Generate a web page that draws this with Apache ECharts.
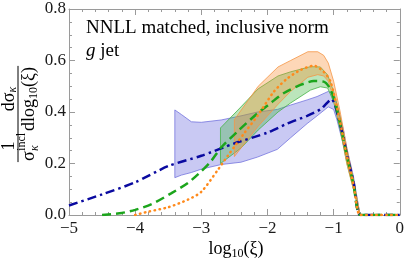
<!DOCTYPE html>
<html><head><meta charset="utf-8">
<script src="https://cdn.jsdelivr.net/npm/echarts@6/dist/echarts.min.js"></script>
<style>html,body{margin:0;padding:0;background:#fff}#c{width:407px;height:263px}</style>
</head><body><div id="c"></div>
<script>
// ---- data ----
const xTickValues = [-5, -4, -3, -2, -1, 0];
const yTickValues = [0, 0.2, 0.4, 0.6, 0.8];

const blueX = [-5, -4.5, -4, -3.5, -3, -2.5, -2, -1.7, -1.4, -1.2, -1.1, -1.03, -0.97, -0.92, -0.85, -0.8, -0.7, -0.6, -0.4, -0.2, 0];
const blueY = [0.037, 0.08, 0.127, 0.19, 0.23, 0.278, 0.32, 0.355, 0.385, 0.41, 0.435, 0.45, 0.42, 0.37, 0.30, 0.235, 0.13, 0, 0, 0, 0];

const greenX = [-4.5, -4.2, -4.0, -3.75, -3.45, -3.2, -3.0, -2.85, -2.7, -2.45, -2.15, -1.95, -1.75, -1.5, -1.3, -1.15, -1.05, -0.95, -0.8, -0.7, -0.6, -0.4, -0.2, 0];
const greenY = [0, 0.008, 0.02, 0.042, 0.085, 0.125, 0.17, 0.21, 0.262, 0.325, 0.395, 0.435, 0.474, 0.505, 0.52, 0.518, 0.49, 0.41, 0.23, 0.12, 0, 0, 0, 0];

const orangeX = [-4.0, -3.8, -3.5, -3.2, -3.0, -2.75, -2.6, -2.35, -2.15, -1.9, -1.7, -1.5, -1.3, -1.15, -1.05, -0.95, -0.8, -0.7, -0.6, -0.4, -0.2, 0];
const orangeY = [0, 0.013, 0.03, 0.06, 0.09, 0.175, 0.23, 0.318, 0.385, 0.48, 0.53, 0.563, 0.58, 0.556, 0.52, 0.42, 0.23, 0.12, 0, 0, 0, 0];

const blueBandX  = [-3.4, -3.3, -3.15, -3.0, -2.7, -2.4, -2.15, -1.85, -1.65, -1.4, -1.25, -1.08, -1.0, -0.95, -0.85, -0.8, -0.7, -0.6];
const blueBandLo = [0.145, 0.155, 0.165, 0.178, 0.196, 0.205, 0.225, 0.255, 0.30, 0.355, 0.385, 0.42, 0.41, 0.37, 0.27, 0.21, 0.11, 0];
const blueBandHi = [0.408, 0.39, 0.362, 0.36, 0.369, 0.385, 0.40, 0.41, 0.427, 0.447, 0.46, 0.48, 0.47, 0.43, 0.33, 0.26, 0.15, 0];

const greenBandX  = [-2.71, -2.4, -2.14, -1.84, -1.65, -1.35, -1.2, -1.09, -1.0, -0.9, -0.8, -0.7, -0.6];
const greenBandLo = [0.2, 0.26, 0.33, 0.40, 0.435, 0.485, 0.498, 0.493, 0.44, 0.33, 0.2, 0.1, 0];
const greenBandHi = [0.338, 0.42, 0.49, 0.54, 0.556, 0.576, 0.575, 0.544, 0.48, 0.38, 0.25, 0.13, 0];

const orangeBandX  = [-2.5, -2.14, -1.84, -1.65, -1.39, -1.24, -1.15, -1.08, -1.0, -0.9, -0.8, -0.7, -0.6];
const orangeBandLo = [0.227, 0.345, 0.43, 0.48, 0.535, 0.545, 0.54, 0.52, 0.45, 0.34, 0.2, 0.1, 0];
const orangeBandHi = [0.37, 0.50, 0.575, 0.60, 0.634, 0.634, 0.62, 0.59, 0.52, 0.40, 0.26, 0.14, 0];

const titleText = 'NNLL matched, inclusive norm';

// ---- helpers ----
const FF = '"Liberation Serif", "Times New Roman", serif';
const mctx = document.createElement('canvas').getContext('2d');
function tw(t, s, it) { mctx.font = (it ? 'italic ' : '') + s + 'px ' + FF; return mctx.measureText(t).width; }
function txt(t, x, y, s, it, align) {
  return { type: 'text', x: x, y: y, silent: true,
    style: { text: t, font: (it ? 'italic ' : '') + s + 'px ' + FF, fill: '#000',
      textAlign: align || 'left', textVerticalAlign: 'middle' } };
}
function row(parts, x0, y0) {
  let x = x0; const els = [];
  for (const p of parts) {
    if (p.stack) {
      let mw = 0;
      for (const q of p.stack) { els.push(txt(q.t, x, y0 + (q.dy || 0), q.s, q.it)); mw = Math.max(mw, tw(q.t, q.s, q.it)); }
      x += mw + (p.gap || 0);
    } else {
      els.push(txt(p.t, x, y0 + (p.dy || 0), p.s, p.it));
      x += tw(p.t, p.s, p.it) + (p.gap || 0);
    }
  }
  return { els, width: x - x0 };
}
function rowWidth(parts) { return row(parts, 0, 0).width; }

function bandSeries(xs, lo, hi, fill, stroke) {
  return {
    type: 'custom', silent: true, clip: true,
    data: xs.map((x, i) => [x, lo[i], hi[i]]),
    encode: { x: 0, y: [1, 2] },
    renderItem: function (params, api) {
      if (params.dataIndex !== 0) return null;
      const pts = [];
      for (let i = 0; i < xs.length; i++) pts.push(api.coord([xs[i], hi[i]]));
      for (let i = xs.length - 1; i >= 0; i--) pts.push(api.coord([xs[i], lo[i]]));
      return { type: 'polygon', shape: { points: pts, smooth: 0 }, style: { fill: fill, stroke: stroke, lineWidth: 1 } };
    }
  };
}
function lineSeries(xs, ys, color, dash, cap) {
  return {
    type: 'line', silent: true, symbol: 'none', smooth: 0.25,
    data: xs.map((x, i) => [x, ys[i]]),
    lineStyle: { color: color, width: 2.5, type: dash, cap: cap || 'butt' },
    z: 5
  };
}

const minus = v => (v < 0 ? '\u2212' + Math.abs(v) : String(v));
const axisCommon = {
  axisLine: { show: true, onZero: false, lineStyle: { color: '#9a9a9a', width: 1 } },
  axisTick: { show: true, inside: true, length: 6, lineStyle: { color: '#9a9a9a' } },
  minorTick: { show: true, length: 3, lineStyle: { color: '#9a9a9a' } },
  splitLine: { show: false }, minorSplitLine: { show: false }
};
const labelStyle = { fontFamily: FF, fontSize: 17, color: '#1a1a1a' };

const xAxes = [
  Object.assign({ type: 'value', min: xTickValues[0], max: xTickValues[xTickValues.length - 1], interval: 1, position: 'bottom',
    axisLabel: Object.assign({ formatter: minus, margin: 5 }, labelStyle) }, axisCommon,
    { minorTick: Object.assign({}, axisCommon.minorTick, { splitNumber: 5 }) }),
  Object.assign({ type: 'value', min: xTickValues[0], max: xTickValues[xTickValues.length - 1], interval: 1, position: 'top',
    axisLabel: { show: false } }, axisCommon, { minorTick: Object.assign({}, axisCommon.minorTick, { splitNumber: 5 }) })
];
const yAxes = [
  Object.assign({ type: 'value', min: yTickValues[0], max: yTickValues[yTickValues.length - 1], interval: 0.2, position: 'left',
    axisLabel: Object.assign({ formatter: v => v.toFixed(1), margin: 3 }, labelStyle) }, axisCommon,
    { minorTick: Object.assign({}, axisCommon.minorTick, { splitNumber: 4 }) }),
  Object.assign({ type: 'value', min: yTickValues[0], max: yTickValues[yTickValues.length - 1], interval: 0.2, position: 'right',
    axisLabel: { show: false } }, axisCommon, { minorTick: Object.assign({}, axisCommon.minorTick, { splitNumber: 4 }) })
];

// ---- y axis label (rotated fraction) ----
const BIG = 18, SM = 12;
const denParts1 = [{ t: 'σ', s: BIG, gap: 0.5 }, { stack: [{ t: 'incl', s: SM, dy: -7 }, { t: 'κ', s: SM, dy: 6, it: true }], gap: 2 }];
const denParts2 = [{ t: 'dlog', s: BIG }, { t: '10', s: SM, dy: 5 }, { t: '(ξ)', s: BIG }];
const w1 = rowWidth(denParts1), w2 = rowWidth(denParts2);
const W = w1 + w2;
const dx0 = -W / 2;
const den1 = row(denParts1, dx0, 11);
const den2 = row(denParts2, dx0 + w1, 11);
const numParts = [{ t: 'dσ', s: BIG }, { t: 'κ', s: SM, dy: 4, it: true }];
const nw = rowWidth(numParts);
const num2 = row(numParts, dx0 + w1 + (w2 - nw) / 2, -9);
const one = txt('1', dx0 + w1 / 2, -9, BIG, false, 'center');
const yLabel = {
  type: 'group', x: 18, y: 114, rotation: Math.PI / 2, silent: true,
  children: [
    { type: 'line', shape: { x1: -W / 2 - 1, y1: 0, x2: W / 2 + 1, y2: 0 }, style: { stroke: '#000', lineWidth: 1 } },
    one
  ].concat(den1.els, den2.els, num2.els)
};

// ---- x axis label ----
const xParts = [{ t: 'log', s: BIG }, { t: '10', s: SM, dy: 5 }, { t: '(ξ)', s: BIG }];
const xw = rowWidth(xParts);
const xLabel = { type: 'group', silent: true, children: row(xParts, 236 - xw / 2, 249).els };

// ---- inset text ----
const gjet = row([{ t: 'g', s: 19, it: true }, { t: ' jet', s: 19 }], 86, 51);
const inset = { type: 'group', silent: true, children: [txt(titleText, 86, 28, 19)].concat(gjet.els) };

const chart = echarts.init(document.getElementById('c'), null, { renderer: 'canvas' });
chart.setOption({
  animation: false,
  backgroundColor: '#ffffff',
  grid: { left: 69, right: 4, top: 9, bottom: 48 },
  xAxis: xAxes,
  yAxis: yAxes,
  series: [
    bandSeries(blueBandX, blueBandLo, blueBandHi, 'rgba(100,100,220,0.35)', 'rgba(110,110,220,0.75)'),
    bandSeries(greenBandX, greenBandLo, greenBandHi, 'rgba(60,180,60,0.35)', 'rgba(70,180,70,0.8)'),
    bandSeries(orangeBandX, orangeBandLo, orangeBandHi, 'rgba(250,140,50,0.35)', 'rgba(245,150,70,0.8)'),
    lineSeries(blueX, blueY, '#0a0aa0', [9, 4, 2.5, 4]),
    lineSeries(greenX, greenY, '#1ca51c', [9, 5]),
    lineSeries(orangeX, orangeY, '#ff8a1c', [0.5, 4.5], 'round')
  ],
  graphic: [yLabel, xLabel, inset]
});
</script></body></html>
